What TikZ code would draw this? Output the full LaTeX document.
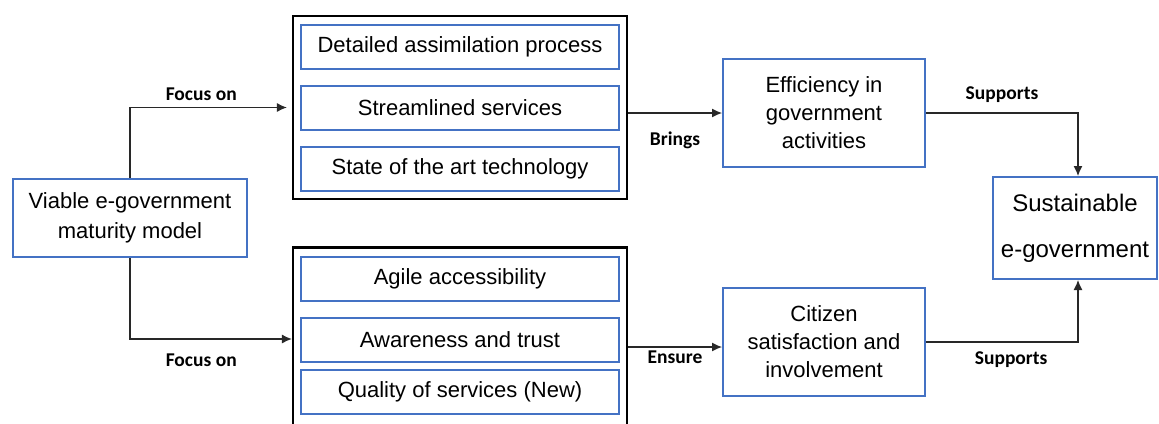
\documentclass[tikz,border=0pt]{standalone}
\usepackage{fontspec}
\setmainfont{Liberation Sans}
\newfontfamily\lblfont{Carlito}
\usetikzlibrary{positioning,arrows.meta}
\definecolor{boxblue}{RGB}{68,114,196}
\definecolor{linegray}{RGB}{40,40,40}

\begin{document}
\begin{tikzpicture}[x=1pt,y=-1pt,
      line width=1.2pt,
      item/.style={rectangle, draw=boxblue, line width=2pt, minimum width=318pt, minimum height=44pt,
        inner sep=0pt, font=\fontsize{22}{30}\selectfont},
      group/.style={rectangle, draw=black, line width=2.2pt, minimum width=334pt, minimum height=183pt, inner sep=0pt},
      block/.style={rectangle, draw=boxblue, line width=2pt, align=center, inner sep=0pt,
        font=\fontsize{22}{28}\selectfont},
      link/.style={draw=linegray, -{Latex[length=10pt,width=9pt]}},
      lbl/.style={font=\lblfont\bfseries\fontsize{19.5}{22}\selectfont, inner sep=2pt}]
    \useasboundingbox (0,0) rectangle (1159,423);

    % left: the model
    \node[block, minimum width=234pt, minimum height=78pt, font=\fontsize{22}{30}\selectfont] (viable) at (130,218)
      {Viable e-government\\maturity model};

    % upper group
    \node[group] (grpA) at (460,107.5) {};
    \node[item] (assim) at (460,47) {Detailed assimilation process};
    \node[item] (stream) at (460,108) {Streamlined services};
    \node[item] (tech) at (460,168.5) {State of the art technology};

    % lower group
    \node[group] (grpB) at (460,339) {};
    \node[item] (agile) at (460,279) {Agile accessibility};
    \node[item] (aware) at (460,340) {Awareness and trust};
    \node[item] (quality) at (460,392) {Quality of services (New)};

    % outcomes
    \node[block, minimum width=202pt, minimum height=108pt] (eff) at (824,113)
      {Efficiency in\\government\\activities};
    \node[block, minimum width=202pt, minimum height=108pt] (cit) at (824,342)
      {Citizen\\satisfaction and\\involvement};
    \node[block, minimum width=164pt, minimum height=102pt, font=\fontsize{24}{46}\selectfont] (sust) at (1075,228)
      {Sustainable\\e-government};

    % connectors
    \draw[link, shorten >=5pt] (viable.north) |- node[lbl, pos=0.72, above=4pt] {Focus on} (grpA.west);
    \draw[link] (viable.south) |- node[lbl, pos=0.72, below=12pt] {Focus on} (grpB.west);
    \draw[link] (eff.west -| grpA.east) -- node[lbl, below=16pt] {Brings} (eff.west);
    \draw[link] ([yshift=-5pt]cit.west -| grpB.east) -- node[lbl, below=1pt] {Ensure} ([yshift=-5pt]cit.west);
    \draw[link] (eff.east) -| node[lbl, pos=0.25, above=8pt] {Supports} ([xshift=3pt]sust.north);
    \draw[link] (cit.east) -| node[lbl, pos=0.28, below=7pt] {Supports} ([xshift=3pt]sust.south);
\end{tikzpicture}
\end{document}
